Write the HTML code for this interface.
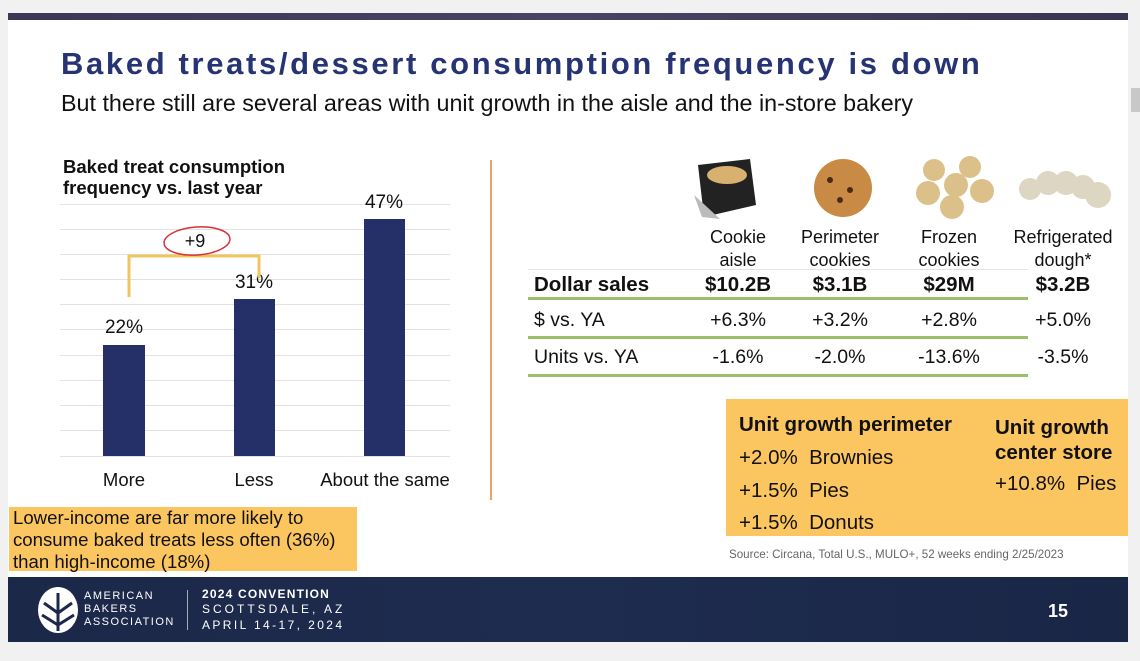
<!DOCTYPE html>
<html><head><style>
*{margin:0;padding:0;box-sizing:border-box}
body{width:1140px;height:661px;background:#f1f1f1;position:relative;overflow:hidden;font-family:"Liberation Sans",Arial,sans-serif;color:#111}
.a{position:absolute}
.slide{left:8px;top:13px;width:1120px;height:629px;background:#fff}
.t{white-space:nowrap}
.c{text-align:center;transform:translateX(-50%)}
.grid{left:60px;width:390px;height:1px;background:#e2e2e2}
.bar{background:#253069}
.row{font-size:19.5px}
.gl{left:528px;width:500px;height:3px;background:#9bbf6b}
</style></head><body>
<div class="a slide"></div>
<div class="a" style="left:8px;top:13px;width:1120px;height:7px;background:linear-gradient(90deg,#3d3656,#4a4464,#3a3450)"></div>
<div class="a" style="left:1131px;top:88px;width:9px;height:24px;background:#c8c8c8"></div>

<div class="a t" style="left:61px;top:46px;font-size:31px;font-weight:bold;color:#263474;letter-spacing:2.65px">Baked treats/dessert consumption frequency is down</div>
<div class="a t" style="left:61px;top:90px;font-size:23.3px;color:#111">But there still are several areas with unit growth in the aisle and the in-store bakery</div>

<div class="a t" style="left:63px;top:156px;font-size:18.5px;font-weight:bold;line-height:21px">Baked treat consumption<br>frequency vs. last year</div>

<div class="a grid" style="top:204px"></div><div class="a grid" style="top:229px"></div><div class="a grid" style="top:254px"></div><div class="a grid" style="top:279px"></div><div class="a grid" style="top:304px"></div><div class="a grid" style="top:329px"></div><div class="a grid" style="top:355px"></div><div class="a grid" style="top:380px"></div><div class="a grid" style="top:405px"></div><div class="a grid" style="top:430px"></div><div class="a grid" style="top:456px"></div>
<div class="a bar" style="left:103px;top:345px;width:42px;height:111px"></div>
<div class="a bar" style="left:234px;top:299px;width:41px;height:157px"></div>
<div class="a bar" style="left:364px;top:219px;width:41px;height:237px"></div>
<div class="a t c" style="left:124px;top:317px;font-size:19px">22%</div>
<div class="a t c" style="left:254px;top:272px;font-size:19px">31%</div>
<div class="a t c" style="left:384px;top:192px;font-size:19px">47%</div>
<div class="a t c" style="left:124px;top:469px;font-size:18.5px">More</div>
<div class="a t c" style="left:254px;top:469px;font-size:18.5px">Less</div>
<div class="a t c" style="left:385px;top:469px;font-size:18.5px">About the same</div>
<svg class="a" style="left:0;top:0" width="500" height="500">
<path d="M129 297 V256 H259 V278" fill="none" stroke="#f0c560" stroke-width="3"/>
<ellipse cx="197" cy="241" rx="33" ry="14" fill="none" stroke="#d8303a" stroke-width="1.5" transform="rotate(-4 197 241)"/>
<line x1="491" y1="160" x2="491" y2="502" stroke="#f0a060" stroke-width="2"/>
</svg>
<div class="a t c" style="left:195px;top:231px;font-size:18px">+9</div>

<div class="a" style="left:9px;top:507px;width:348px;height:64px;background:#fbc560"></div>
<div class="a t" style="left:13px;top:507px;font-size:18.6px;line-height:22px">Lower-income are far more likely to<br>consume baked treats less often (36%)<br>than high-income (18%)</div>

<svg class="a" style="left:690px;top:155px" width="440" height="70">
<path d="M8 10 L60 4 L66 50 L14 62 Z" fill="#222"/><path d="M4 40 L12 62 L30 64 Z" fill="#bbb"/><ellipse cx="37" cy="20" rx="20" ry="9" fill="#d8b070"/>
<circle cx="153" cy="33" r="29" fill="#c88a44"/><circle cx="140" cy="25" r="3" fill="#4a2a14"/><circle cx="160" cy="35" r="3" fill="#4a2a14"/><circle cx="150" cy="45" r="3" fill="#4a2a14"/>
<g fill="#dcc08a"><circle cx="244" cy="15" r="11"/><circle cx="280" cy="12" r="11"/><circle cx="266" cy="30" r="12"/><circle cx="238" cy="38" r="12"/><circle cx="292" cy="36" r="12"/><circle cx="262" cy="52" r="12"/></g>
<g fill="#ddd6c2"><circle cx="340" cy="34" r="11"/><circle cx="358" cy="28" r="12"/><circle cx="376" cy="28" r="12"/><circle cx="393" cy="32" r="12"/><circle cx="408" cy="40" r="13"/></g>
</svg>
<div class="a t c" style="left:738px;top:226px;font-size:18px;line-height:23px;text-align:center">Cookie<br>aisle</div>
<div class="a t c" style="left:840px;top:226px;font-size:18px;line-height:23px;text-align:center">Perimeter<br>cookies</div>
<div class="a t c" style="left:949px;top:226px;font-size:18px;line-height:23px;text-align:center">Frozen<br>cookies</div>
<div class="a t c" style="left:1063px;top:226px;font-size:18px;line-height:23px;text-align:center">Refrigerated<br>dough*</div>
<div class="a" style="left:528px;top:269px;width:500px;height:1px;background:#e4e4e4"></div>
<div class="a t" style="left:534px;top:273px;font-size:20.5px;font-weight:bold">Dollar sales</div>
<div class="a t c" style="left:738px;top:273px;font-size:20.5px;font-weight:bold">$10.2B</div>
<div class="a t c" style="left:840px;top:273px;font-size:20.5px;font-weight:bold">$3.1B</div>
<div class="a t c" style="left:949px;top:273px;font-size:20.5px;font-weight:bold">$29M</div>
<div class="a t c" style="left:1063px;top:273px;font-size:20.5px;font-weight:bold">$3.2B</div>
<div class="a gl" style="top:297px"></div>
<div class="a t row" style="left:534px;top:309px">$ vs. YA</div>
<div class="a t c row" style="left:738px;top:309px">+6.3%</div>
<div class="a t c row" style="left:840px;top:309px">+3.2%</div>
<div class="a t c row" style="left:949px;top:309px">+2.8%</div>
<div class="a t c row" style="left:1063px;top:309px">+5.0%</div>
<div class="a gl" style="top:336px"></div>
<div class="a t row" style="left:534px;top:346px">Units vs. YA</div>
<div class="a t c row" style="left:738px;top:346px">-1.6%</div>
<div class="a t c row" style="left:840px;top:346px">-2.0%</div>
<div class="a t c row" style="left:949px;top:346px">-13.6%</div>
<div class="a t c row" style="left:1063px;top:346px">-3.5%</div>
<div class="a gl" style="top:374px"></div>

<div class="a" style="left:726px;top:399px;width:402px;height:137px;background:#fbc560"></div>
<div class="a t" style="left:739px;top:413px;font-size:20.5px;font-weight:bold">Unit growth perimeter</div>
<div class="a t" style="left:739px;top:442px;font-size:20.5px;line-height:32.5px">+2.0%&nbsp; Brownies<br>+1.5%&nbsp; Pies<br>+1.5%&nbsp; Donuts</div>
<div class="a t" style="left:995px;top:415px;font-size:20.5px;font-weight:bold;line-height:25px">Unit growth<br>center store</div>
<div class="a t" style="left:995px;top:472px;font-size:20.5px">+10.8%&nbsp; Pies</div>
<div class="a t" style="left:729px;top:548px;font-size:11.6px;color:#666">Source: Circana, Total U.S., MULO+, 52 weeks ending 2/25/2023</div>

<div class="a" style="left:8px;top:577px;width:1120px;height:65px;background:linear-gradient(90deg,#1c2848,#1e2c50 50%,#1a2646)"></div>
<svg class="a" style="left:36px;top:585px" width="44" height="50"><g fill="#fff"><ellipse cx="22" cy="25" rx="20" ry="23"/></g><g stroke="#1c2848" stroke-width="3" fill="none"><path d="M22 8 V46"/><path d="M8 18 L22 28 L36 18"/><path d="M6 30 L22 40 L38 30"/></g></svg>
<div class="a" style="left:84px;top:590px;font-size:11px;color:#fff;letter-spacing:1.5px;line-height:13px">AMERICAN<br>BAKERS<br>ASSOCIATION</div>
<div class="a" style="left:187px;top:590px;width:1px;height:40px;background:#aab"></div>
<div class="a t" style="left:202px;top:587px;font-size:12px;color:#fff;font-weight:bold;letter-spacing:1.2px">2024 CONVENTION</div>
<div class="a t" style="left:202px;top:602px;font-size:12px;color:#fff;letter-spacing:3px">SCOTTSDALE, AZ</div>
<div class="a t" style="left:202px;top:618px;font-size:12px;color:#fff;letter-spacing:2.4px">APRIL 14-17, 2024</div>
<div class="a t" style="left:1048px;top:601px;font-size:18px;color:#fff;font-weight:bold">15</div>
</body></html>
